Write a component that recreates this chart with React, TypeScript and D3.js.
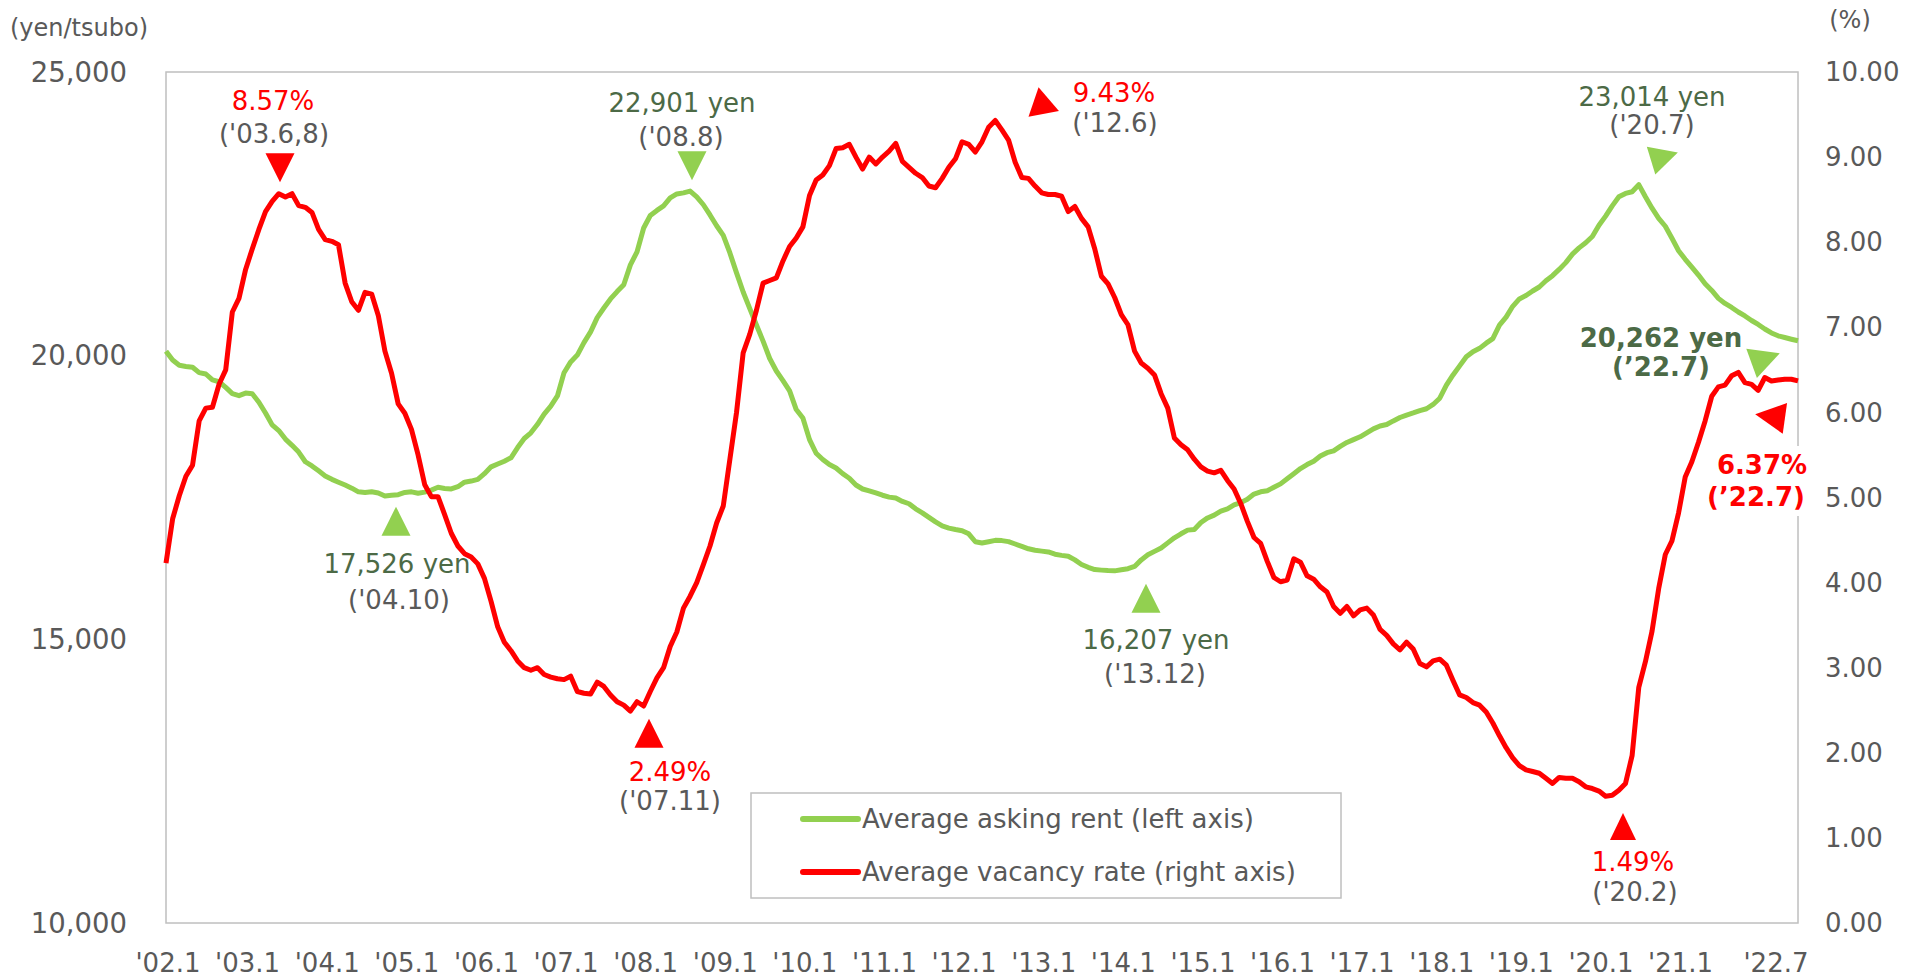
import React from 'react';
import * as d3 from 'd3';

const W = 1918;
const H = 977;
const PLOT = { left: 166, right: 1798, top: 72, bottom: 923 };

// Average asking rent (yen/tsubo), monthly from 2002.1 to 2022.7
const rent = [
  20080, 19924, 19830, 19810, 19795, 19701, 19677, 19572, 19540, 19440, 19330, 19295,
  19340, 19330, 19180, 18990, 18780, 18680, 18530, 18420, 18300, 18130, 18056, 17970,
  17880, 17820, 17770, 17720, 17665, 17600, 17590, 17600, 17580, 17526, 17540, 17550,
  17590, 17600, 17575, 17595, 17630, 17680, 17660, 17650, 17690, 17770, 17790, 17820,
  17920, 18040, 18090, 18140, 18200, 18380, 18540, 18640, 18790, 18970, 19110, 19290,
  19700, 19890, 20010, 20230, 20420, 20670, 20840, 21000, 21130, 21250, 21600, 21830,
  22250, 22470, 22560, 22640, 22780, 22850, 22870, 22901, 22800, 22660, 22480, 22290,
  22120, 21810, 21460, 21123, 20830, 20540, 20257, 19950, 19730, 19560, 19380, 19050,
  18900, 18520, 18280, 18170, 18080, 18020, 17920, 17840, 17720, 17650, 17617, 17580,
  17540, 17507, 17490, 17430, 17390, 17300, 17230, 17150, 17070, 17000, 16960, 16935,
  16915, 16860, 16720, 16697, 16720, 16745, 16740, 16722, 16680, 16640, 16596, 16570,
  16555, 16540, 16500, 16480, 16465, 16400, 16320, 16270, 16230, 16220, 16212, 16207,
  16225, 16245, 16285, 16400, 16490, 16550, 16610, 16700, 16790, 16860, 16925, 16935,
  17060, 17140, 17190, 17260, 17300, 17370, 17410, 17470, 17560, 17600, 17620, 17680,
  17740, 17830, 17920, 18010, 18080, 18140, 18230, 18290, 18322, 18400, 18470, 18520,
  18570, 18640, 18710, 18760, 18786, 18850, 18910, 18953, 18990, 19030, 19064, 19140,
  19250, 19480, 19660, 19820, 19980, 20070, 20129, 20220, 20300, 20540, 20680, 20870,
  21000, 21060, 21140, 21210, 21320, 21410, 21520, 21640, 21790, 21900, 21990, 22100,
  22300, 22460, 22640, 22800, 22860, 22890, 23014, 22800, 22600, 22420, 22281, 22070,
  21850, 21699, 21560, 21420, 21267, 21150, 21010, 20920, 20850, 20770, 20700, 20620,
  20550, 20470, 20400, 20350, 20320, 20290, 20262,
];

// Average vacancy rate (%), same months
const vacancy = [
  4.23, 4.75, 5.02, 5.25, 5.38, 5.90, 6.05, 6.06, 6.33, 6.50, 7.18, 7.34,
  7.68, 7.92, 8.15, 8.36, 8.48, 8.57, 8.53, 8.57, 8.43, 8.41, 8.35, 8.15,
  8.03, 8.01, 7.97, 7.52, 7.30, 7.20, 7.41, 7.39, 7.14, 6.72, 6.46, 6.10,
  5.99, 5.80, 5.50, 5.15, 5.01, 5.01, 4.80, 4.58, 4.43, 4.34, 4.30, 4.22,
  4.05, 3.78, 3.48, 3.30, 3.20, 3.08, 3.00, 2.97, 3.00, 2.92, 2.89, 2.87,
  2.86, 2.90, 2.72, 2.70, 2.69, 2.83, 2.78, 2.68, 2.60, 2.56, 2.49, 2.60,
  2.55, 2.72, 2.88, 3.00, 3.25, 3.42, 3.70, 3.84, 4.00, 4.21, 4.43, 4.70,
  4.90, 5.45, 6.00, 6.70, 6.92, 7.20, 7.52, 7.55, 7.58, 7.78, 7.95, 8.05,
  8.18, 8.55, 8.73, 8.79, 8.90, 9.10, 9.11, 9.15, 9.00, 8.86, 9.00, 8.92,
  9.00, 9.07, 9.16, 8.95, 8.88, 8.81, 8.76, 8.66, 8.64, 8.75, 8.88, 8.98,
  9.18, 9.15, 9.06, 9.18, 9.35, 9.43, 9.32, 9.20, 8.94, 8.76, 8.75, 8.66,
  8.58, 8.56, 8.56, 8.54, 8.36, 8.42, 8.28, 8.18, 7.92, 7.60, 7.51, 7.35,
  7.15, 7.03, 6.72, 6.58, 6.52, 6.44, 6.22, 6.05, 5.70, 5.62, 5.56, 5.45,
  5.36, 5.31, 5.29, 5.32, 5.20, 5.10, 4.93, 4.72, 4.53, 4.46, 4.25, 4.06,
  4.01, 4.03, 4.28, 4.24, 4.08, 4.04, 3.95, 3.89, 3.72, 3.64, 3.72, 3.61,
  3.68, 3.70, 3.62, 3.45, 3.38, 3.28, 3.21, 3.30, 3.22, 3.05, 3.01, 3.08,
  3.10, 3.03, 2.85, 2.68, 2.65, 2.59, 2.56, 2.48, 2.35, 2.20, 2.06, 1.94,
  1.85, 1.80, 1.78, 1.76, 1.70, 1.64, 1.71, 1.70, 1.70, 1.66, 1.60, 1.58,
  1.55, 1.49, 1.50, 1.56, 1.64, 1.97, 2.77, 3.07, 3.43, 3.93, 4.33, 4.49,
  4.82, 5.24, 5.42, 5.65, 5.90, 6.19, 6.30, 6.32, 6.43, 6.47, 6.35, 6.33,
  6.26, 6.41, 6.37, 6.38, 6.39, 6.39, 6.37,
];

const xTickLabels = ["'02.1", "'03.1", "'04.1", "'05.1", "'06.1", "'07.1", "'08.1", "'09.1", "'10.1", "'11.1",
  "'12.1", "'13.1", "'14.1", "'15.1", "'16.1", "'17.1", "'18.1", "'19.1", "'20.1", "'21.1", "'22.7"];
const xTickMonths = [0, 12, 24, 36, 48, 60, 72, 84, 96, 108, 120, 132, 144, 156, 168, 180, 192, 204, 216, 228, 246];
const rentTicks = [10000, 15000, 20000, 25000];
const vacancyTicks = [0, 1, 2, 3, 4, 5, 6, 7, 8, 9, 10];

const GREEN = '#92d050';
const RED = '#ff0000';
const DARKGREEN = '#4c6a46';
const GRAY = '#595959';
const FONT = '"DejaVu Sans", Verdana, sans-serif';

// annotation labels: [x, y, text, color, bold]
const labels: [number, number, string, string, boolean][] = [
  [273, 101, '8.57%', RED, false],
  [274, 134, "('03.6,8)", GRAY, false],
  [682, 103, '22,901 yen', DARKGREEN, false],
  [681, 137, "('08.8)", GRAY, false],
  [1114, 93, '9.43%', RED, false],
  [1115, 123, "('12.6)", GRAY, false],
  [397, 564, '17,526 yen', DARKGREEN, false],
  [399, 600, "('04.10)", GRAY, false],
  [670, 772, '2.49%', RED, false],
  [670, 801, "('07.11)", GRAY, false],
  [1156, 640, '16,207 yen', DARKGREEN, false],
  [1155, 674, "('13.12)", GRAY, false],
  [1633, 862, '1.49%', RED, false],
  [1635, 892, "('20.2)", GRAY, false],
  [1652, 97, '23,014 yen', DARKGREEN, false],
  [1652, 125, "('20.7)", GRAY, false],
  [1661, 338, '20,262 yen', DARKGREEN, true],
  [1661, 367, '(\u201922.7)', DARKGREEN, true],
  [1762, 465, '6.37%', RED, true],
  [1756, 497, '(\u201922.7)', RED, true],
];

// triangle markers: [cx, cy, width, height, rotation, color]
const markers: [number, number, number, number, number, string][] = [
  [280, 163, 29, 29, 180, RED],
  [692, 161, 29, 29, 180, GREEN],
  [1042, 105, 31, 27, -11, RED],
  [396, 526, 29, 29, 0, GREEN],
  [649, 738, 29, 29, 0, RED],
  [1146, 603, 29, 29, 0, GREEN],
  [1623, 831, 26, 27, 0, RED],
  [1660, 158, 29, 28, 73, GREEN],
  [1761, 360, 31, 30, 70, GREEN],
  [1775, 417, 31, 30, -82, RED],
];

function triPath(w: number, h: number) {
  return `M0,${(-2 * h) / 3}L${w / 2},${h / 3}L${-w / 2},${h / 3}Z`;
}

export default function App() {
  const x = d3.scaleLinear().domain([0, rent.length - 1]).range([PLOT.left, PLOT.right]);
  const yRent = d3.scaleLinear().domain([10000, 25000]).range([PLOT.bottom, PLOT.top]);
  const yVac = d3.scaleLinear().domain([0, 10]).range([PLOT.bottom, PLOT.top]);

  const rentLine = d3.line<number>().x((_, i) => x(i)).y(d => yRent(d));
  const vacLine = d3.line<number>().x((_, i) => x(i)).y(d => yVac(d));
  const fmtRent = d3.format(',');
  const fmtVac = d3.format('.2f');

  return (
    <svg width={W} height={H} style={{ position: 'absolute', left: 0, top: 0, background: '#fff' }}
      fontFamily={FONT}>
      <rect x={PLOT.left} y={PLOT.top} width={PLOT.right - PLOT.left} height={PLOT.bottom - PLOT.top}
        fill="none" stroke="#bfbfbf" strokeWidth={1.5} />

      <text x={79} y={28} dy="0.35em" textAnchor="middle" fontSize={24} fill={GRAY}>(yen/tsubo)</text>
      <text x={1850} y={20} dy="0.35em" textAnchor="middle" fontSize={24} fill={GRAY}>(%)</text>

      {rentTicks.map(t => (
        <text key={t} x={127} y={yRent(t)} dy="0.35em" textAnchor="end" fontSize={27.5} fill={GRAY}>{fmtRent(t)}</text>
      ))}
      {vacancyTicks.map(t => (
        <text key={t} x={1825} y={yVac(t)} dy="0.35em" textAnchor="start" fontSize={26} fill={GRAY}>{fmtVac(t)}</text>
      ))}
      {xTickMonths.map((m, i) => (
        <text key={m} x={x(m) + (i === xTickMonths.length - 1 ? -22 : 2)} y={963} dy="0.35em" textAnchor="middle"
          fontSize={26} fill={GRAY}>{xTickLabels[i]}</text>
      ))}

      <path d={rentLine(rent) || ''} fill="none" stroke={GREEN} strokeWidth={5} strokeLinejoin="round" />
      <path d={vacLine(vacancy) || ''} fill="none" stroke={RED} strokeWidth={5} strokeLinejoin="round" />

      {/* white box behind the last vacancy label */}
      <rect x={1712} y={446} width={100} height={70} fill="#fff" />

      {markers.map(([cx, cy, w, h, r, c], i) => (
        <path key={i} d={triPath(w, h)} transform={`translate(${cx},${cy}) rotate(${r})`} fill={c} />
      ))}
      {labels.map(([lx, ly, t, c, b], i) => (
        <text key={i} x={lx} y={ly} dy="0.35em" textAnchor="middle" fontSize={26} fill={c}
          fontWeight={b ? 'bold' : 'normal'}>{t}</text>
      ))}

      <g>
        <rect x={751} y={793} width={590} height={105} fill="#fff" stroke="#bfbfbf" strokeWidth={1.5} />
        <line x1={803} x2={858} y1={819} y2={819} stroke={GREEN} strokeWidth={6} strokeLinecap="round" />
        <text x={862} y={819} dy="0.35em" fontSize={26} fill={GRAY}>Average asking rent (left axis)</text>
        <line x1={803} x2={858} y1={872} y2={872} stroke={RED} strokeWidth={6} strokeLinecap="round" />
        <text x={862} y={872} dy="0.35em" fontSize={26} fill={GRAY}>Average vacancy rate (right axis)</text>
      </g>
    </svg>
  );
}
